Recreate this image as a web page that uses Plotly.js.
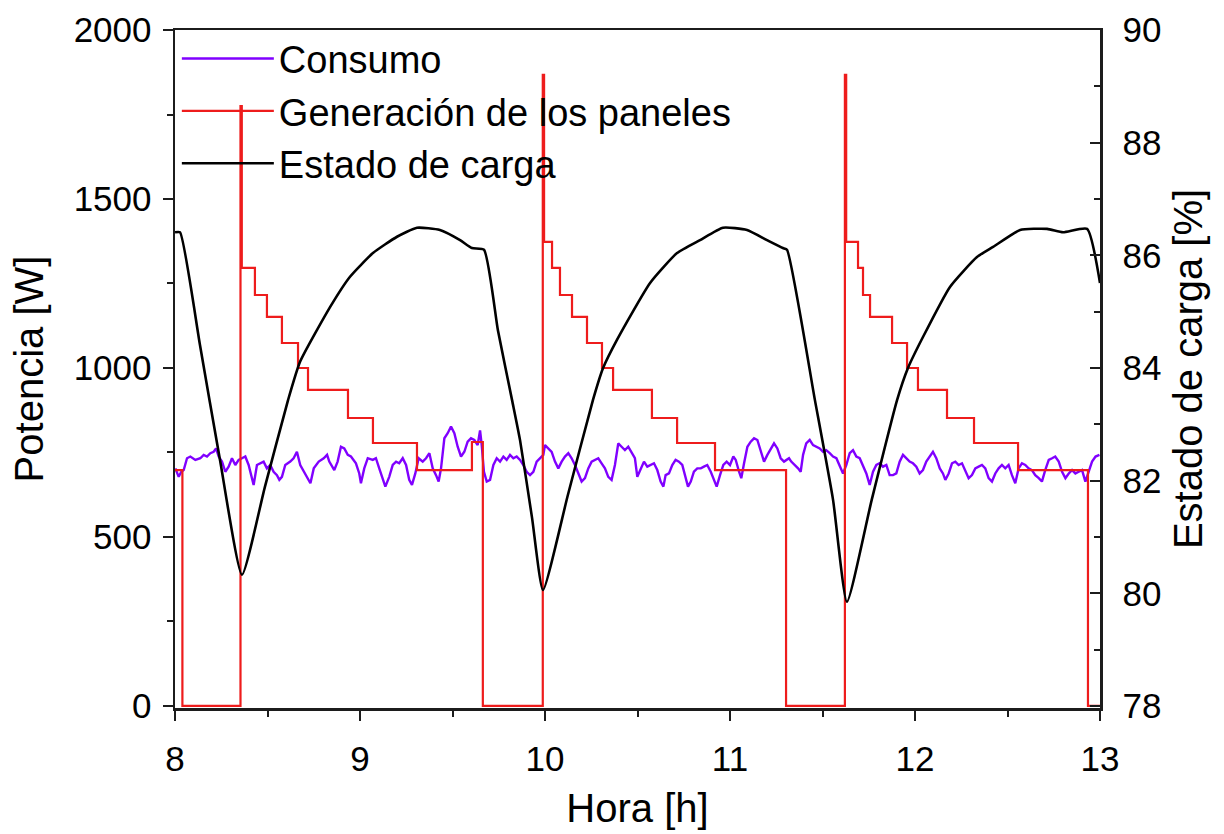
<!DOCTYPE html>
<html>
<head>
<meta charset="utf-8">
<script src="https://cdn.plot.ly/plotly-3.0.1.min.js"></script>
<style>html,body{margin:0;padding:0;background:#fff;}#chart{width:1224px;height:834px;}</style>
</head>
<body>
<div id="chart"></div>
<script>
// Consumo (W) vs hora
const consumoHora = [8.002,8.020,8.034,8.047,8.065,8.083,8.110,8.137,8.155,8.173,8.191,8.209,8.222,8.236,8.254,8.272,8.290,8.308,8.326,8.344,8.362,8.380,8.398,8.416,8.425,8.443,8.461,8.479,8.497,8.515,8.533,8.551,8.564,8.578,8.596,8.623,8.641,8.659,8.677,8.696,8.714,8.732,8.750,8.777,8.804,8.822,
8.834,8.861,8.879,8.897,8.915,8.934,8.951,8.978,8.996,9.005,9.023,9.042,9.069,9.086,9.104,9.123,9.137,9.158,9.177,9.195,9.212,9.231,9.249,9.266,9.281,9.299,9.317,9.339,9.357,9.375,9.393,9.411,9.425,9.438,9.456,9.474,9.492,9.510,9.528,9.546,9.564,9.582,9.600,9.618,9.636,9.649,
9.658,9.670,9.685,9.703,9.721,9.739,9.757,9.775,9.793,9.811,9.829,9.847,9.865,9.883,9.901,9.919,9.937,9.955,9.973,9.991,10.000,10.018,10.036,10.054,10.072,10.090,10.108,10.126,10.144,10.162,10.180,10.198,10.216,10.234,10.252,10.270,10.288,10.306,10.324,10.342,10.360,10.378,10.396,10.414,10.432,10.450,10.468,10.486,
10.499,10.517,10.535,10.553,10.571,10.589,10.607,10.625,10.640,10.652,10.670,10.688,10.706,10.724,10.742,10.761,10.773,10.788,10.805,10.823,10.842,10.859,10.877,10.896,10.914,10.928,10.946,10.964,10.982,11.000,11.018,11.031,11.049,11.061,11.076,11.094,11.112,11.130,11.148,11.166,11.184,11.202,11.220,11.238,11.256,11.274,11.292,11.319,
11.331,11.350,11.368,11.382,11.395,11.412,11.431,11.449,11.466,11.485,11.503,11.520,11.539,11.557,11.575,11.593,11.611,11.629,11.647,11.665,11.683,11.701,11.719,11.737,11.755,11.773,11.791,11.809,11.827,11.845,11.863,11.881,11.899,11.917,11.935,11.953,11.971,11.989,12.007,12.025,12.043,12.061,12.080,12.097,12.115,12.134,12.151,
12.164,12.182,12.200,12.218,12.236,12.254,12.272,12.290,12.308,12.326,12.344,12.362,12.380,12.398,12.416,12.434,12.452,12.470,12.488,12.506,12.524,12.542,12.560,12.578,12.596,12.614,12.632,12.650,12.669,12.686,12.704,12.723,12.741,12.758,12.777,12.795,12.813,12.831,12.849,12.867,12.885,12.903,12.921,12.940,12.957,12.976,12.997];
const consumoW = [703,678,693,698,733,738,728,733,743,738,748,752,762,738,723,693,708,733,713,728,733,738,713,669,654,713,718,723,703,713,693,683,669,678,713,723,733,752,713,693,678,659,703,723,733,743,
723,698,723,767,762,743,738,718,688,659,703,733,728,733,703,674,649,678,713,723,718,733,713,669,654,688,733,723,733,748,703,683,664,703,792,807,827,807,767,738,752,782,792,787,772,815,
772,693,664,669,713,733,723,738,728,743,733,738,728,713,693,683,693,723,733,743,772,762,752,723,703,723,738,748,733,713,688,664,674,703,723,728,733,718,703,678,669,713,777,767,757,767,752,733,
678,703,723,708,713,718,698,664,649,683,688,713,728,723,713,678,649,664,693,703,703,708,713,693,669,649,683,713,723,713,738,728,693,674,718,767,782,792,787,757,723,743,762,777,762,733,723,733,
723,713,703,693,743,777,787,772,767,762,752,757,748,738,733,713,688,713,748,757,738,733,713,688,654,693,713,718,708,713,683,683,688,723,743,733,723,718,708,688,698,723,738,752,733,703,688,
669,688,718,723,713,718,698,674,683,703,708,713,703,674,664,688,703,713,703,713,683,659,703,718,713,703,698,683,674,664,698,728,733,738,723,693,674,688,698,688,693,698,664,693,723,738,743];

// Generación de los paneles (W): inicio de cada escalón
const generacionHora = [8.000,8.040,8.354,8.361,8.432,8.497,8.578,8.665,8.719,8.935,9.070,9.308,9.605,9.664,
9.988,9.995,10.038,10.081,10.146,10.227,10.308,10.368,10.578,10.714,10.919,11.303,
11.621,11.628,11.692,11.719,11.757,11.876,11.957,12.016,12.173,12.319,12.557,12.935,13.000];
const generacionW = [698,0,1775,1296,1216,1151,1074,1000,935,852,778,698,781,0,
1867,1373,1296,1216,1151,1074,1000,935,852,778,698,0,
1867,1373,1296,1216,1151,1074,1000,935,852,778,698,0,0];

// Estado de carga (%)
const socHora = [8.000,8.027,8.135,8.243,8.362,8.486,8.611,8.676,8.838,8.946,9.070,9.200,9.308,9.432,9.541,9.605,9.670,9.746,9.822,9.865,9.930,9.989,
10.124,10.259,10.314,10.389,10.568,10.714,10.838,10.962,11.092,11.200,11.286,11.308,11.459,11.557,11.632,
11.766,11.903,11.962,12.043,12.189,12.335,12.422,12.568,12.714,12.800,12.930,13.000];
const socPct = [86.41,86.41,84.41,82.37,80.33,81.89,83.43,84.11,85.08,85.62,86.04,86.33,86.49,86.45,86.27,86.13,86.10,84.66,83.43,82.72,81.34,80.06,
81.75,83.43,84.00,84.50,85.51,86.04,86.27,86.49,86.45,86.27,86.13,86.10,83.43,81.66,79.85,
81.66,83.43,84.00,84.55,85.44,85.97,86.15,86.45,86.47,86.41,86.47,85.51];

const legendNames = ['Consumo','Generación de los paneles','Estado de carga'];
const xTicks = [8,9,10,11,12,13];

const FONT = '"Liberation Sans", Arial, sans-serif';
const AX = '#1c1c1c';
const TICKSIZE = 35;
const TITLESIZE = 40;

const traces = [
  {x: consumoHora, y: consumoW, name: legendNames[0], type: 'scatter', mode: 'lines',
   line: {color: '#8000FF', width: 2.4}, yaxis: 'y'},
  {x: generacionHora, y: generacionW, name: legendNames[1], type: 'scatter', mode: 'lines',
   line: {color: '#EE1C1C', width: 2.2, shape: 'hv'}, yaxis: 'y'},
  {x: socHora, y: socPct, name: legendNames[2], type: 'scatter', mode: 'lines',
   line: {color: '#000000', width: 2.6, shape: 'spline', smoothing: 0.5}, yaxis: 'y2'}
];

const layout = {
  width: 1224, height: 834,
  margin: {l: 175, r: 124, t: 30, b: 126, pad: 0},
  paper_bgcolor: '#ffffff', plot_bgcolor: '#ffffff',
  font: {family: FONT, color: '#000', size: TICKSIZE},
  showlegend: true,
  legend: {x: 0.002, y: 1.004, xanchor: 'left', yanchor: 'top', bgcolor: 'rgba(0,0,0,0)',
    font: {family: FONT, size: 38, color: '#000'}, itemwidth: 92, tracegroupgap: 0},
  xaxis: {range: [8, 13], tickvals: xTicks, ticktext: xTicks.map(String), ticks: 'outside', ticklen: 10, tickwidth: 2,
    tickcolor: AX, showline: true, linecolor: AX, linewidth: 2.5, mirror: true, showgrid: false, zeroline: false,
    tickfont: {family: FONT, size: TICKSIZE, color: '#000'}, ticklabelstandoff: 8,
    minor: {dtick: 0.5, ticks: 'outside', ticklen: 6, tickwidth: 2, tickcolor: AX, showgrid: false},
    title: {text: 'Hora [h]', font: {family: FONT, size: TITLESIZE, color: '#000'}, standoff: 18}},
  yaxis: {range: [-6, 2000], dtick: 500, tick0: 0, ticks: 'outside', ticklen: 10, tickwidth: 2, tickcolor: AX,
    showline: true, linecolor: AX, linewidth: 2.5, showgrid: false, zeroline: false,
    tickfont: {family: FONT, size: TICKSIZE, color: '#000'}, ticklabelstandoff: 4,
    minor: {dtick: 250, ticks: 'outside', ticklen: 6, tickwidth: 2, tickcolor: AX, showgrid: false},
    title: {text: 'Potencia [W]', font: {family: FONT, size: TITLESIZE, color: '#000'}, standoff: 18}},
  yaxis2: {overlaying: 'y', side: 'right', range: [77.965, 90], dtick: 2, tick0: 78, ticks: 'inside', ticklen: 10,
    tickwidth: 2, tickcolor: AX, showline: true, linecolor: AX, linewidth: 2.5, showgrid: false, zeroline: false,
    tickfont: {family: FONT, size: TICKSIZE, color: '#000'}, ticklabelstandoff: 13,
    minor: {dtick: 1, ticks: 'inside', ticklen: 6, tickwidth: 2, tickcolor: AX, showgrid: false},
    title: {text: 'Estado de carga [%]', font: {family: FONT, size: TITLESIZE, color: '#000'}, standoff: 14}}
};

Plotly.newPlot('chart', traces, layout, {displayModeBar: false, staticPlot: true});
</script>
</body>
</html>
